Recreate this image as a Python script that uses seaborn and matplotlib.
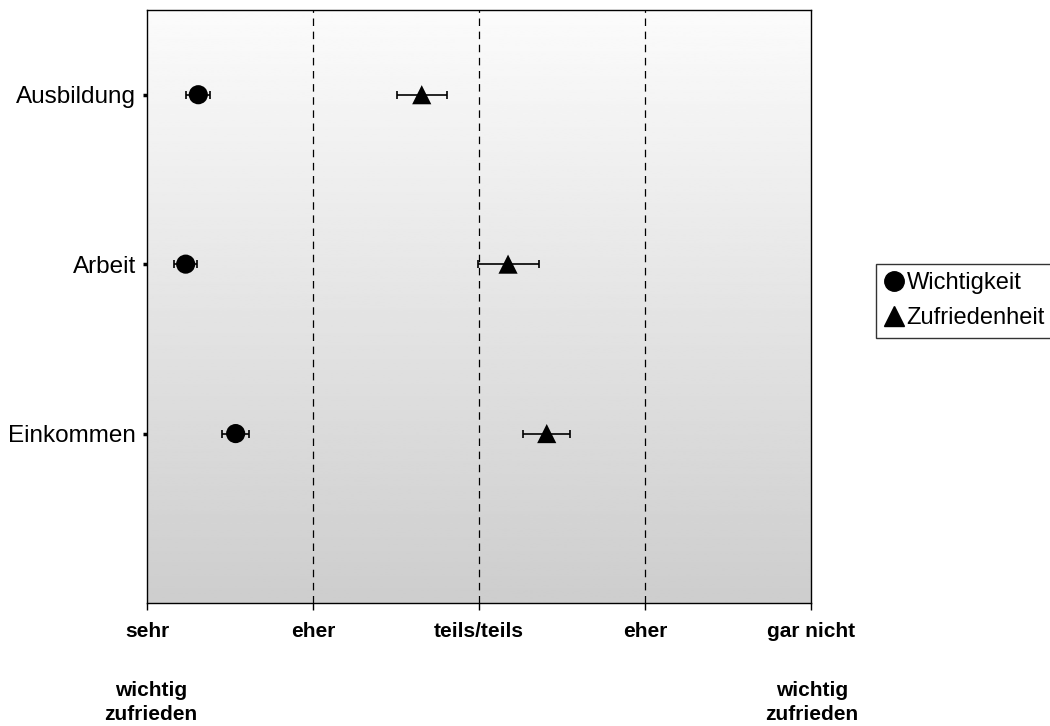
import numpy as np
import pandas as pd
import matplotlib
matplotlib.use("Agg")
import matplotlib.pyplot as plt
import seaborn as sns
from matplotlib.lines import Line2D

# Ratings on a 1 (sehr) .. 5 (gar nicht) scale, with confidence half-widths
categories = ["Einkommen", "Arbeit", "Ausbildung"]
wichtigkeit = [1.534, 1.233, 1.309]
wichtigkeit_err = [0.080, 0.068, 0.073]
zufriedenheit = [3.408, 3.175, 2.655]
zufriedenheit_err = [0.140, 0.184, 0.150]
scale_labels = ["sehr", "eher", "teils/teils", "eher", "gar nicht"]

sns.set_style("ticks")
plt.rcParams["font.family"] = ["Liberation Sans", "DejaVu Sans"]
plt.rcParams.update({"text.color": "black", "xtick.color": "black",
                     "ytick.color": "black", "axes.labelcolor": "black"})

ypos = np.arange(1, len(categories) + 1)
df = pd.DataFrame({
    "Kategorie": categories * 2,
    "y": np.concatenate([ypos, ypos]),
    "Wert": wichtigkeit + zufriedenheit,
    "Fehler": wichtigkeit_err + zufriedenheit_err,
    "Merkmal": ["Wichtigkeit"] * 3 + ["Zufriedenheit"] * 3,
})

fig = plt.figure(figsize=(10.5, 7.26), dpi=100)
ax = fig.add_axes([147 / 1050, 123 / 726, 664 / 1050, 593 / 726])

# vertical gradient background: light at top, grey at bottom
grad = np.linspace(0.985, 0.805, 256).reshape(-1, 1)
ax.imshow(grad, cmap="gray", vmin=0, vmax=1, aspect="auto",
          extent=[1, 5, 0, 3.5], origin="upper", zorder=0)

for x in [2, 3, 4]:
    ax.axvline(x, color="black", lw=0.9, ls=(0, (6, 4.5)), zorder=1)

for _, row in df.iterrows():
    ax.errorbar(row["Wert"], row["y"], xerr=row["Fehler"], fmt="none",
                ecolor="black", elinewidth=1.2, capsize=3, capthick=1.2, zorder=2)

sns.scatterplot(data=df, x="Wert", y="y", style="Merkmal",
                markers={"Wichtigkeit": "o", "Zufriedenheit": "^"},
                color="black", s=190, edgecolor="black", linewidth=0,
                legend=False, ax=ax, zorder=3)

ax.set_xlim(1, 5)
ax.set_ylim(0, 3.5)
ax.set_xticks([1, 2, 3, 4, 5])
ax.set_xticklabels(scale_labels, fontsize=15, fontweight="bold")
ax.set_yticks(ypos)
ax.set_yticklabels(categories, fontsize=17.5)
ax.tick_params(axis="x", length=5, width=1, pad=9, color="black")
ax.tick_params(axis="y", length=3, width=2.5, pad=5, color="black")
ax.set_xlabel("")
ax.set_ylabel("")
for sp in ax.spines.values():
    sp.set_visible(True)
    sp.set_color("black")
    sp.set_linewidth(1.0)

# second line of the scale anchors
for xf in [151 / 1050, 812 / 1050]:
    fig.text(xf, 1 - 690 / 726, "wichtig", ha="center", va="center",
             fontsize=15, fontweight="bold")
    fig.text(xf, 1 - 715 / 726, "zufrieden", ha="center", va="center",
             fontsize=15, fontweight="bold")

handles = [
    Line2D([], [], marker="o", color="black", ls="none", markersize=14),
    Line2D([], [], marker="^", color="black", ls="none", markersize=14),
]
leg = fig.legend(handles, ["Wichtigkeit", "Zufriedenheit"],
                 loc="upper left", bbox_to_anchor=(876 / 1050, 1 - 264 / 726),
                 frameon=True, fancybox=False, fontsize=17,
                 handlelength=0.8, handletextpad=0.15, borderpad=0.35,
                 borderaxespad=0, labelspacing=0.55)
leg.get_frame().set_edgecolor("black")
leg.get_frame().set_linewidth(1.0)

fig.savefig("out.png", dpi=100)
